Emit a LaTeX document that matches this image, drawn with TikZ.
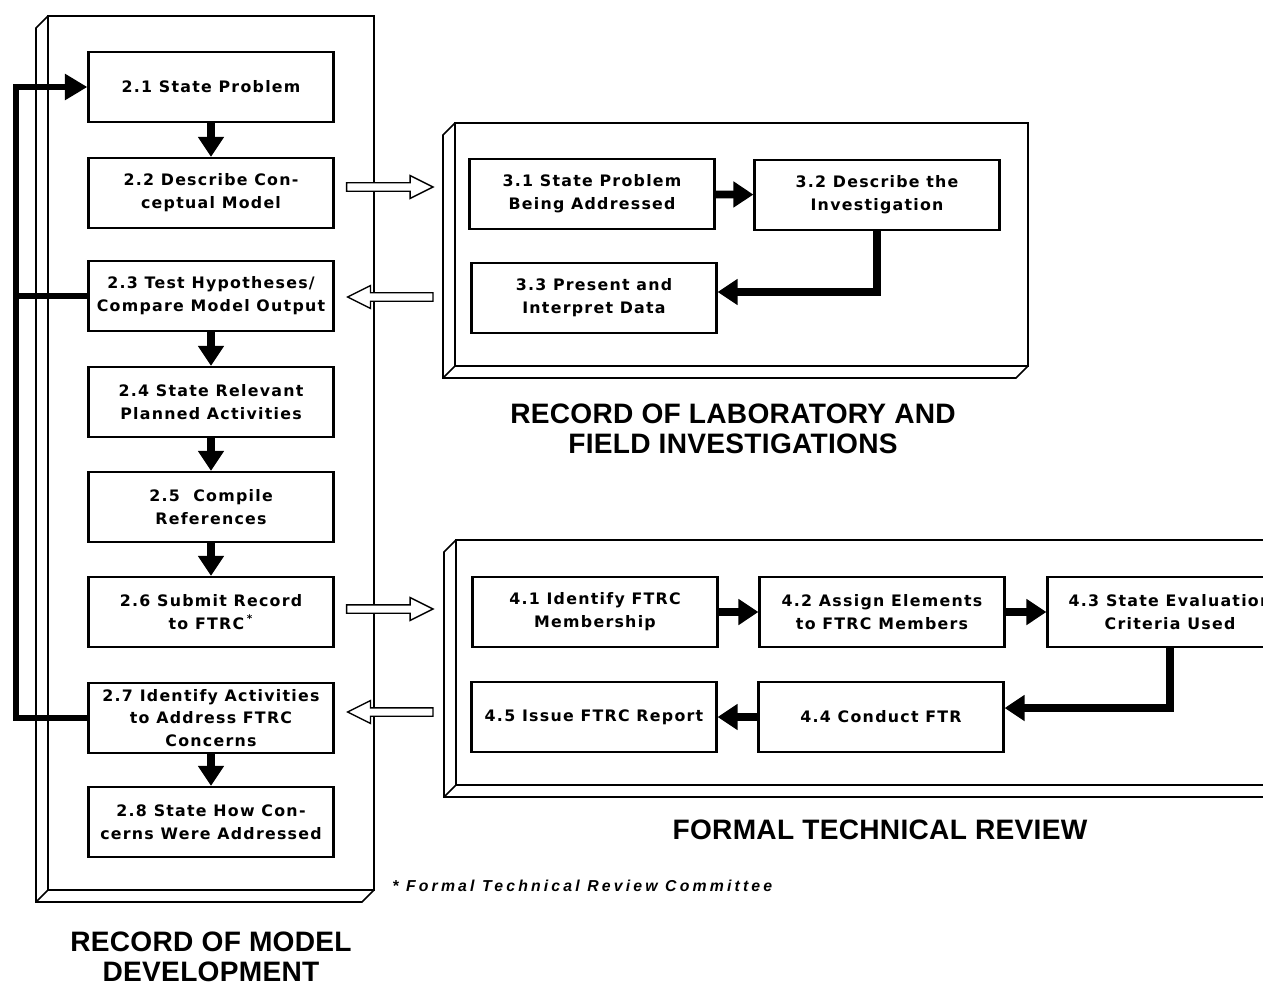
\documentclass[tikz,border=0pt]{standalone}
\usepackage{fontspec}
\usetikzlibrary{arrows.meta,calc}
\newfontfamily\boxfont[LetterSpace=8]{DejaVu Sans}
\newfontfamily\headfont[LetterSpace=1]{Liberation Sans}
\newfontfamily\notefont[LetterSpace=20]{Liberation Sans}
% slab panel: front face x1,y1,x2,y2 with depth to the lower left
\newcommand\slab[4]{%
  \draw[panel] (#1,#2) rectangle (#3,#4);
  \draw[panel] (#1,#2) -- ++(-12,12) -- ({#1-12},{#4+12}) -- ({#3-12},{#4+12}) -- (#3,#4);
  \draw[panel] (#1,#4) -- ++(-12,12);}
% open block arrow from #1 to #2 (same height)
\newcommand\hollowarr[2]{%
  \draw[hollow] let \p1=#1, \p2=#2, \n1={sign(\x2-\x1)} in
    (\x1,{\y1+2.4pt}) -- ({\x2-(\n1)*13pt},{\y1+2.4pt}) -- ({\x2-(\n1)*13pt},{\y1+6.5pt})
    -- (\x2,\y1) -- ({\x2-(\n1)*13pt},{\y1-6.5pt}) -- ({\x2-(\n1)*13pt},{\y1-2.4pt})
    -- (\x1,{\y1-2.4pt}) -- cycle;}
\begin{document}
\begin{tikzpicture}[x=0.02cm, y=-0.02cm,
  every node/.style={font=\boxfont\bfseries\fontsize{9}{13}\selectfont},
  stepbox/.style={draw, line width=1.3pt, minimum width=4.9cm, minimum height=1.4cm, align=center, inner sep=1pt},
  panel/.style={line width=0.9pt},
  flow/.style={line width=4.4pt, -{Triangle[length=0.4cm,width=0.5cm]}},
  loopline/.style={line width=3.4pt},
  hollow/.style={draw, line width=0.8pt, fill=white},
  heading/.style={font=\headfont\bfseries\fontsize{16}{17}\selectfont, align=center}]
\useasboundingbox (0,0) rectangle (1263,991);
\clip (0,0) rectangle (1263,991);
% panels
\slab{48}{16}{374}{890}
\slab{455}{123}{1028}{366}
\slab{456}{540}{1320}{785}
% model development
\node[stepbox] (b21) at (211,87) {2.1 State Problem};
\node[stepbox] (b22) at (211,193) {2.2 Describe Con-\\ceptual Model};
\node[stepbox] (b23) at (211,296) {2.3 Test Hypotheses/\\Compare Model Output};
\node[stepbox] (b24) at (211,402) {2.4 State Relevant\\Planned Activities};
\node[stepbox] (b25) at (211,507) {2.5 \ Compile\\References};
\node[stepbox] (b26) at (211,612) {2.6 Submit Record\\to FTRC\,\textsuperscript{*}};
\node[stepbox] (b27) at (211,718) {2.7 Identify Activities\\to Address FTRC\\Concerns};
\node[stepbox] (b28) at (211,822) {2.8 State How Con-\\cerns Were Addressed};
\foreach \a/\b in {b21/b22,b23/b24,b24/b25,b25/b26,b27/b28}
  \draw[flow] (\a) -- (\b);
% feedback loop
\coordinate (fb) at (16,0);
\draw[loopline, -{Triangle[length=0.45cm,width=0.5cm]}] (b27.west) -- (b27.west -| fb) |- (b21.west);
\draw[loopline] (b23.west) -- (b23.west -| fb);
% laboratory and field investigations
\node[stepbox] (b31) at (592,194) {3.1 State Problem\\Being Addressed};
\node[stepbox] (b32) at (877,195) {3.2 Describe the\\Investigation};
\node[stepbox] (b33) at (594,298) {3.3 Present and\\Interpret Data};
\draw[flow] (b31) -- (b32);
\draw[flow] (b32.south) |- ([yshift=0.12cm]b33.east);
% formal technical review
\node[stepbox] (b41) at (595,612) {4.1 Identify FTRC\\Membership};
\node[stepbox] (b42) at (882,612) {4.2 Assign Elements\\to FTRC Members};
\node[stepbox] (b43) at (1170,612) {4.3 State Evaluation\\Criteria Used};
\node[stepbox] (b44) at (881,717) {4.4 Conduct FTR};
\node[stepbox] (b45) at (594,717) {4.5 Issue FTRC Report};
\draw[flow] (b41) -- (b42);
\draw[flow] (b42) -- (b43);
\draw[flow] (b43.south) |- ([yshift=0.18cm]b44.east);
\draw[flow] (b44) -- (b45);
% open arrows between records
\coordinate (gap) at (433,0);
\hollowarr{($(b22.east)+(12,-6)$)}{($(b22.east -| gap)+(0,-6)$)}
\hollowarr{($(b23.east -| gap)+(0,1)$)}{($(b23.east)+(13,1)$)}
\hollowarr{($(b26.east)+(12,-3)$)}{($(b26.east -| gap)+(0,-3)$)}
\hollowarr{($(b27.east -| gap)+(0,-6)$)}{($(b27.east)+(13,-6)$)}
% titles
\node[heading] (tlab) at (733,429) {RECORD OF LABORATORY AND\\FIELD INVESTIGATIONS};
\node[heading] (tftr) at (880,830) {FORMAL TECHNICAL REVIEW};
\node[heading] (tmod) at (211,957) {RECORD OF MODEL\\DEVELOPMENT};
\node[font=\notefont\bfseries\itshape\fontsize{9}{10}\selectfont, anchor=west, inner sep=0pt] (note) at (392,886) {* Formal Technical Review Committee};
\end{tikzpicture}
\end{document}
